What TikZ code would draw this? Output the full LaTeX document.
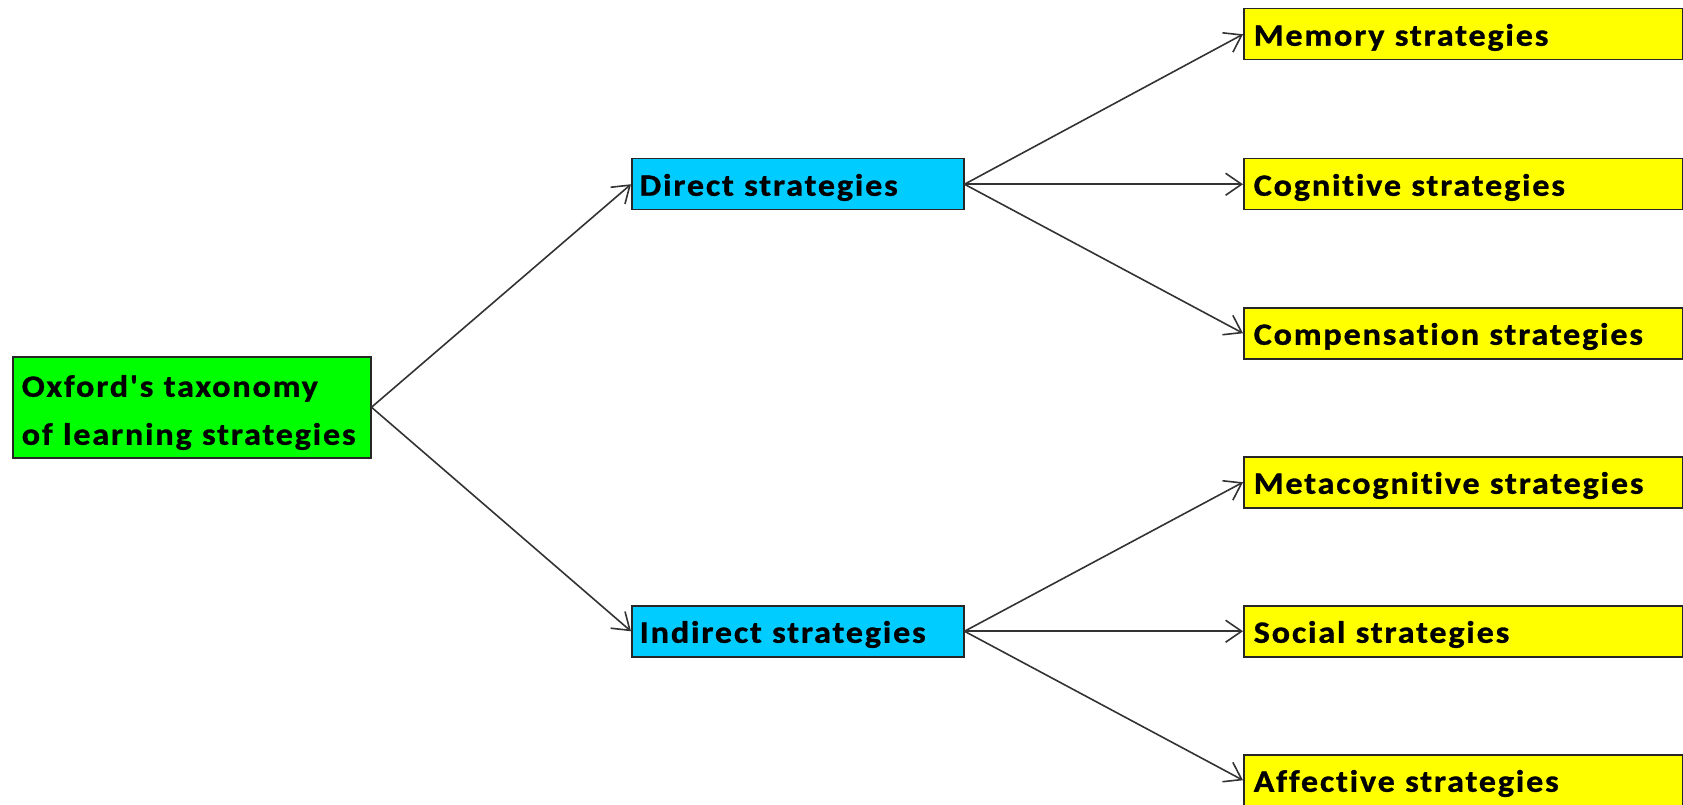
\documentclass[tikz,border=0pt]{standalone}
\usepackage{fontspec}
\newfontfamily\labelfont{Carlito}[Ligatures={NoCommon}, LetterSpace=6, FakeStretch=1.1, FakeBold=1]
\usetikzlibrary{arrows.meta}
\definecolor{rootgreen}{HTML}{00FF00}
\definecolor{midblue}{HTML}{00CCFF}
\definecolor{leafyellow}{HTML}{FFFF00}
\tikzset{
  box/.style={draw=black!85, line width=1.5pt, anchor=north west,
    font=\labelfont\fontsize{31}{48}\selectfont\bfseries, align=left, inner ysep=0pt},
  rootbox/.style={box, fill=rootgreen, minimum width=358pt, minimum height=101pt,
    text width=340pt, inner xsep=9pt, text height=20pt, text depth=41pt},
  midbox/.style={box, fill=midblue, minimum width=332pt, minimum height=51pt,
    text width=316pt, inner xsep=8pt, text height=25pt, text depth=2pt},
  leafbox/.style={box, fill=leafyellow, minimum width=439pt, minimum height=51pt,
    text width=419pt, inner xsep=10pt, text height=25pt, text depth=2pt},
  link/.style={draw=black!80, line width=1.6pt,
    -{Straight Barb[length=16pt, width=22pt, line width=1.6pt]}}
}
\begin{document}
\begin{tikzpicture}[x=1pt, y=-1pt]
  \useasboundingbox (0,0) rectangle (1683,805);
  % root
  \node[rootbox] (root) at (12,356) {Oxford's taxonomy\\of learning strategies};
  % second level
  \node[midbox] (direct)   at (631,158) {Direct strategies};
  \node[midbox] (indirect) at (631,605) {Indirect strategies};
  % leaves
  \node[leafbox] (memory)  at (1243,8)   {Memory strategies};
  \node[leafbox] (cogn)    at (1243,158) {Cognitive strategies};
  \node[leafbox] (comp)    at (1243,307) {Compensation strategies};
  \node[leafbox] (meta)    at (1243,456) {Metacognitive strategies};
  \node[leafbox] (social)  at (1243,605) {Social strategies};
  \node[leafbox] (affect)  at (1243,754) {Affective strategies};
  % connectors
  \draw[link] (root.east) -- (direct.west);
  \draw[link] (root.east) -- (indirect.west);
  \draw[link] (direct.east) -- (memory.west);
  \draw[link] (direct.east) -- (cogn.west);
  \draw[link] (direct.east) -- (comp.west);
  \draw[link] (indirect.east) -- (meta.west);
  \draw[link] (indirect.east) -- (social.west);
  \draw[link] (indirect.east) -- (affect.west);
\end{tikzpicture}
\end{document}
